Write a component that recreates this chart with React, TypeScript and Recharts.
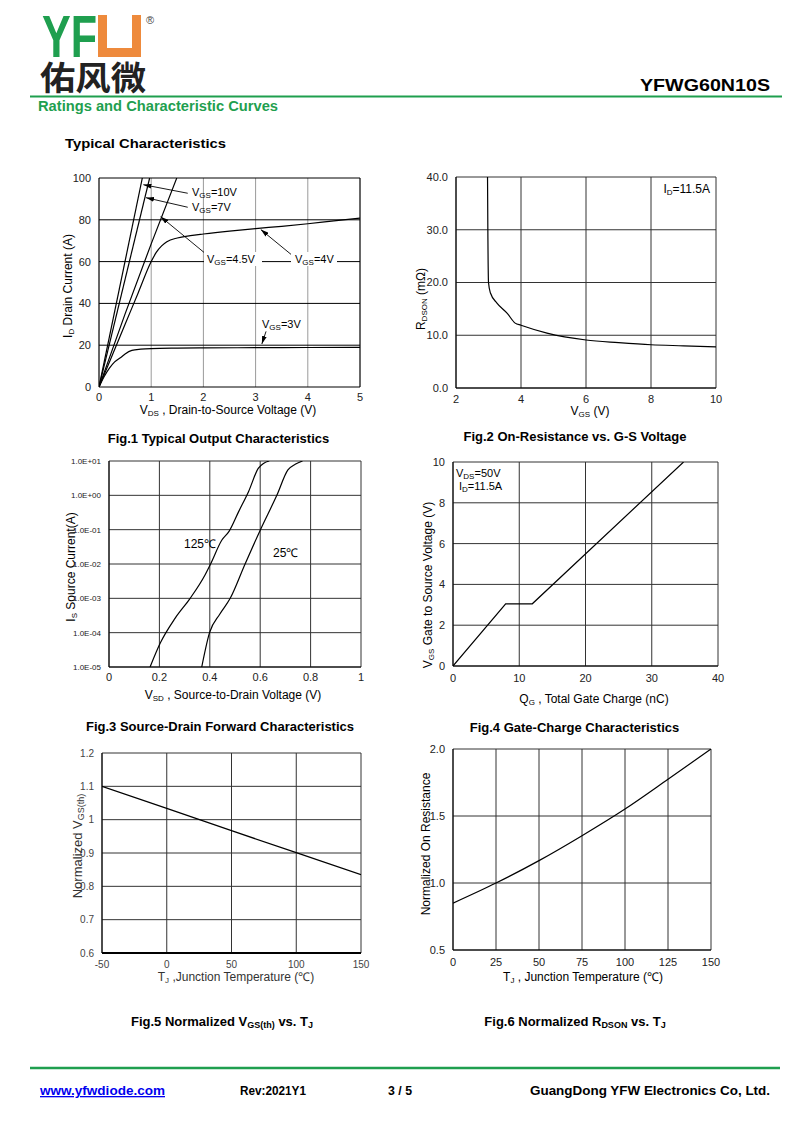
import React from "react";
import { LineChart, Line, XAxis, YAxis, CartesianGrid, ReferenceLine } from "recharts";

const FONT = "'Liberation Sans', Arial, Helvetica, sans-serif";
const GREEN = "#1f9f4f";
const ORANGE = "#ee8a3c";

type Pt = [number, number];

// Fig.1 output characteristics [Vds, Id]
const fig1X = [0, 1, 2, 3, 4, 5];
const fig1Y = [0, 20, 40, 60, 80, 100];
const vgs10: Pt[] = [[0, 0], [0.83, 100]];
const vgs7: Pt[] = [[0, 0], [0.97, 100]];
const vgs45: Pt[] = [[0, 0], [0.5, 35], [1.0, 68.5], [1.49, 100]];
const vgs4: Pt[] = [
  [0, 0], [0.25, 15], [0.5, 30], [0.75, 45], [1.0, 60], [1.1, 64.5], [1.2, 67.5], [1.3, 69.5],
  [1.5, 71.3], [1.75, 72.4], [2, 73.2], [2.5, 74.6], [3, 75.8], [3.5, 76.9], [4, 78.1], [4.5, 79.5], [5, 80.8],
];
const vgs3: Pt[] = [
  [0, 0], [0.1, 5], [0.2, 9], [0.3, 12], [0.43, 14.4], [0.5, 15.8], [0.63, 17.5], [0.8, 18.1],
  [1, 18.4], [1.5, 18.6], [2, 18.7], [3, 18.8], [4, 18.9], [5, 19],
];

// Fig.2 Rdson vs Vgs
const fig2X = [2, 4, 6, 8, 10];
const fig2Y = [0, 10, 20, 30, 40];
const rdson: Pt[] = [
  [2.97, 40], [2.98, 30], [3.0, 20], [3.06, 18], [3.26, 16.1], [3.57, 14.2], [3.82, 12.3], [4.0, 11.9],
  [4.8, 10.4], [6, 9.1], [7, 8.6], [8, 8.2], [9, 8], [10, 7.8],
];

// Fig.3 source-drain forward [Vsd, Is]
const fig3X = [0, 0.2, 0.4, 0.6, 0.8, 1];
const fig3Y = [1e-5, 1e-4, 1e-3, 1e-2, 1e-1, 1, 10];
const is125: Pt[] = [
  [0.163, 1e-5], [0.203, 4.9e-5], [0.262, 2.6e-4], [0.322, 1e-3], [0.381, 4.8e-3], [0.403, 1e-2],
  [0.448, 5e-2], [0.477, 9.1e-2], [0.514, 0.33], [0.554, 1.3], [0.593, 6.2], [0.613, 8.5], [0.636, 10],
];
const is25: Pt[] = [
  [0.368, 1e-5], [0.399, 1e-4], [0.44, 3.5e-4], [0.481, 1e-3], [0.54, 1e-2], [0.601, 1e-1],
  [0.666, 1], [0.71, 5.5], [0.739, 8], [0.768, 10],
];

// Fig.4 gate charge [Qg, Vgs]
const fig4X = [0, 10, 20, 30, 40];
const fig4Y = [0, 2, 4, 6, 8, 10];
const gateCharge: Pt[] = [[0, 0], [7.95, 3.05], [11.97, 3.05], [34.8, 10]];

// Fig.5 normalized Vgs(th) vs Tj
const fig5X = [-50, 0, 50, 100, 150];
const fig5Y = [0.6, 0.7, 0.8, 0.9, 1.0, 1.1, 1.2];
const vth: Pt[] = [[-50, 1.1], [0, 1.034], [50, 0.967], [100, 0.901], [150, 0.835]];

// Fig.6 normalized Rdson vs Tj
const fig6X = [0, 25, 50, 75, 100, 125, 150];
const fig6Y = [0.5, 1.0, 1.5, 2.0];
const rNorm: Pt[] = [[0, 0.85], [25, 1.0], [50, 1.167], [75, 1.353], [100, 1.552], [125, 1.774], [150, 2.0]];

const pts = (a: Pt[]) => a.map(([x, y]) => ({ x, y }));

const PAD_L = 60, PAD_R = 20, PAD_T = 10, PAD_B = 30;

function Plot({ box, children }: { box: number[]; children: React.ReactNode }) {
  const [x0, y0, x1, y1] = box;
  return (
    <div style={{ position: "absolute", left: x0 - PAD_L, top: y0 - PAD_T, zIndex: 1 }}>
      <LineChart
        width={x1 - x0 + PAD_L + PAD_R}
        height={y1 - y0 + PAD_T + PAD_B}
        margin={{ top: PAD_T, right: PAD_R, left: 0, bottom: 0 }}
      >
        {children}
      </LineChart>
    </div>
  );
}

const tick = (size = 11, fill = "#222") => ({ fontSize: size, fill, fontFamily: FONT });
const axLine = { stroke: "#000", strokeWidth: 1 };

const xAx = (
  domain: number[], ticks: number[], fmt?: (v: number) => string, t = tick(), line: any = axLine, size = 6,
) => (
  <XAxis
    type="number" dataKey="x" domain={domain} ticks={ticks} interval={0} allowDataOverflow
    height={PAD_B} tickLine={false} tickSize={size} axisLine={line} tick={t} tickFormatter={fmt}
  />
);
const yAx = (domain: number[], ticks: number[], fmt?: (v: number) => string, t = tick(), extra: any = {}) => (
  <YAxis
    type="number" domain={domain} ticks={ticks} interval={0} allowDataOverflow
    width={PAD_L} tickLine={false} axisLine={axLine} tick={t} tickFormatter={fmt} {...extra}
  />
);
const curve = (d: Pt[], type: "linear" | "monotone" = "monotone", w = 1.2) => (
  <Line data={pts(d)} dataKey="y" type={type} stroke="#000" strokeWidth={w} dot={false} isAnimationActive={false} />
);
const Arrow = (p: any) => (
  <line x1={p.x1} y1={p.y1} x2={p.x2} y2={p.y2} stroke="#000" strokeWidth={0.9} markerEnd="url(#ah)" />
);
const arrow = (x1: number, y1: number, x2: number, y2: number) => (
  <ReferenceLine segment={[{ x: x1, y: y1 }, { x: x2, y: y2 }]} shape={Arrow} ifOverflow="visible" />
);

const logFmt = (v: number) => {
  const e = Math.round(Math.log10(v));
  return "1.0E" + (e < 0 ? "-" : "+") + String(Math.abs(e)).padStart(2, "0");
};

function Sub({ children, size = 8 }: { children: React.ReactNode; size?: number }) {
  return <tspan fontSize={size} baselineShift="-25%">{children}</tspan>;
}

export default function App() {
  return (
    <div style={{ position: "absolute", left: 0, top: 0, width: 800, height: 1130, background: "#fff", overflow: "hidden" }}>
      {/* Fig.1 */}
      <Plot box={[99, 178, 360, 387]}>
        <CartesianGrid horizontal={false} stroke="#9a9a9a" />
        {xAx([0, 5], fig1X, undefined, tick(), axLine, 4)}
        {yAx([0, 100], fig1Y)}
        {fig1Y.slice(1).map((v) => <ReferenceLine key={v} y={v} stroke="#000" />)}
        <ReferenceLine x={5} stroke="#000" />
        {curve(vgs10, "linear")}
        {curve(vgs7, "linear")}
        {curve(vgs45, "monotone")}
        {curve(vgs4)}
        {curve(vgs3)}
        {arrow(1.7, 92.7, 0.85, 96.8)}
        {arrow(1.7, 86, 0.9, 90.6)}
        {arrow(2.08, 63, 1.18, 81.5)}
        {arrow(3.75, 62, 3.1, 75.3)}
        {arrow(3.2, 26.6, 3.12, 20.6)}
      </Plot>

      {/* Fig.2 */}
      <Plot box={[456, 177, 716, 388]}>
        <CartesianGrid stroke="#333" />
        {xAx([2, 10], fig2X, undefined, tick(), axLine, 5)}
        {yAx([0, 40], fig2Y, (v) => v.toFixed(1))}
        {curve(rdson)}
      </Plot>

      {/* Fig.3 */}
      <Plot box={[109, 461, 361, 667]}>
        <CartesianGrid stroke="#333" />
        {xAx([0, 1], fig3X, (v) => (v === 0 || v === 1 ? String(v) : v.toFixed(1)), tick(), axLine, 4)}
        {yAx([1e-5, 10], fig3Y, logFmt, tick(8), { scale: "log" })}
        {curve(is125)}
        {curve(is25)}
      </Plot>

      {/* Fig.4 */}
      <Plot box={[453, 462, 718, 666]}>
        <CartesianGrid stroke="#333" />
        {xAx([0, 40], fig4X)}
        {yAx([0, 10], fig4Y)}
        {curve(gateCharge, "linear")}
      </Plot>

      {/* Fig.5 */}
      <Plot box={[102, 753, 361, 953]}>
        <CartesianGrid stroke="#333" />
        {xAx([-50, 150], fig5X, undefined, tick(10, "#444"), { stroke: "#000", strokeWidth: 2 })}
        {yAx([0.6, 1.2], fig5Y, (v) => String(+v.toFixed(1)), tick(10, "#444"))}
        {curve(vth, "linear")}
      </Plot>

      {/* Fig.6 */}
      <Plot box={[453, 749, 711, 950]}>
        <CartesianGrid stroke="#333" />
        {xAx([0, 150], fig6X)}
        {yAx([0.5, 2.0], fig6Y, (v) => v.toFixed(1))}
        {curve(rNorm)}
      </Plot>

      <svg
        width={800}
        height={1130}
        style={{ position: "absolute", left: 0, top: 0, zIndex: 2, pointerEvents: "none" }}
        fontFamily={FONT}
      >
        <defs>
          <marker id="ah" viewBox="0 0 10 6" refX="10" refY="3" markerWidth="8" markerHeight="5" orient="auto" markerUnits="userSpaceOnUse">
            <path d="M0,0 L10,3 L0,6 z" fill="#000" />
          </marker>
        </defs>

        {/* header */}
        <text x={42} y={57} fontSize={60} fontWeight="bold" fill={GREEN} textLength={55} lengthAdjust="spacingAndGlyphs">YF</text>
        <rect x={98} y={15} width={43} height={42} fill={ORANGE} />
        <rect x={107} y={15} width={25} height={33} fill="#fff" />
        <text x={146} y={24} fontSize={11} fill="#444">®</text>
        <text x={40} y={90} fontSize={33} fontWeight="bold" fill="#222" fontFamily="'Noto Sans CJK SC', sans-serif" textLength={106} lengthAdjust="spacingAndGlyphs">佑风微</text>
        <text x={770} y={91} fontSize={17} fontWeight="bold" textAnchor="end" textLength={130} lengthAdjust="spacingAndGlyphs">YFWG60N10S</text>
        <line x1={30} y1={96.5} x2={782} y2={96.5} stroke={GREEN} strokeWidth={2} />
        <text x={38} y={111} fontSize={14} fontWeight="bold" fill={GREEN} textLength={240} lengthAdjust="spacingAndGlyphs">Ratings and Characteristic Curves</text>
        <text x={65} y={148} fontSize={13} fontWeight="bold" textLength={161} lengthAdjust="spacingAndGlyphs">Typical Characteristics</text>

        {/* Fig.1 labels */}
        <g fontSize={11}>
          <text x={192} y={196}>V<Sub>GS</Sub>=10V</text>
          <text x={192} y={211}>V<Sub>GS</Sub>=7V</text>
          <rect x={204} y={252} width={58} height={14} fill="#fff" />
          <text x={207} y={263}>V<Sub>GS</Sub>=4.5V</text>
          <rect x={291} y={252} width={46} height={14} fill="#fff" />
          <text x={295} y={263}>V<Sub>GS</Sub>=4V</text>
          <text x={262} y={328}>V<Sub>GS</Sub>=3V</text>
        </g>
        <text transform="translate(72,286) rotate(-90)" fontSize={12} textAnchor="middle">I<Sub>D</Sub> Drain Current (A)</text>
        <text x={228} y={414} fontSize={12} textAnchor="middle">V<Sub>DS</Sub>  , Drain-to-Source Voltage (V)</text>
        <text x={218.5} y={443} fontSize={13} fontWeight="bold" textAnchor="middle">Fig.1 Typical Output Characteristics</text>

        {/* Fig.2 labels */}
        <text x={710} y={193} fontSize={12} textAnchor="end">I<Sub>D</Sub>=11.5A</text>
        <text transform="translate(425,299) rotate(-90)" fontSize={12} textAnchor="middle">R<Sub>DSON</Sub> (mΩ)</text>
        <text x={590} y={415} fontSize={12} textAnchor="middle">V<Sub>GS</Sub> (V)</text>
        <text x={575} y={441} fontSize={13} fontWeight="bold" textAnchor="middle">Fig.2 On-Resistance vs. G-S Voltage</text>

        {/* Fig.3 labels */}
        <text x={184} y={548} fontSize={12}>125℃</text>
        <text x={273} y={557} fontSize={12}>25℃</text>
        <text transform="translate(75,567) rotate(-90)" fontSize={12} textAnchor="middle">I<Sub>S</Sub> Source Current(A)</text>
        <text x={233} y={699} fontSize={12} textAnchor="middle">V<Sub>SD</Sub> , Source-to-Drain Voltage (V)</text>
        <text x={220} y={731} fontSize={13} fontWeight="bold" textAnchor="middle">Fig.3 Source-Drain Forward Characteristics</text>

        {/* Fig.4 labels */}
        <text x={456} y={477} fontSize={11}>V<Sub>DS</Sub>=50V</text>
        <text x={459} y={490} fontSize={11}>I<Sub>D</Sub>=11.5A</text>
        <text transform="translate(432,585) rotate(-90)" fontSize={12} textAnchor="middle">V<Sub>GS</Sub>      Gate to Source Voltage (V)</text>
        <text x={594} y={703} fontSize={12} textAnchor="middle">Q<Sub>G</Sub> , Total Gate Charge (nC)</text>
        <text x={574.5} y={732} fontSize={13} fontWeight="bold" textAnchor="middle">Fig.4 Gate-Charge Characteristics</text>

        {/* Fig.5 labels */}
        <text transform="translate(82,846) rotate(-90)" fontSize={13} textAnchor="middle" fill="#333">Normalized V<Sub size={9}>GS(th)</Sub></text>
        <text x={236} y={981} fontSize={12} textAnchor="middle" fill="#333">T<Sub>J</Sub> ,Junction Temperature (℃)</text>
        <text x={222} y={1026} fontSize={13} fontWeight="bold" textAnchor="middle">Fig.5 Normalized V<Sub size={9}>GS(th)</Sub> vs. T<Sub size={9}>J</Sub></text>

        {/* Fig.6 labels */}
        <text transform="translate(430,844) rotate(-90)" fontSize={12} textAnchor="middle">Normalized On Resistance</text>
        <text x={583} y={981} fontSize={12} textAnchor="middle">T<Sub>J</Sub> , Junction Temperature (℃)</text>
        <text x={575} y={1026} fontSize={13} fontWeight="bold" textAnchor="middle">Fig.6 Normalized R<Sub size={9}>DSON</Sub> vs. T<Sub size={9}>J</Sub></text>

        {/* footer */}
        <line x1={30} y1={1068} x2={780} y2={1068} stroke={GREEN} strokeWidth={2.5} />
        <text x={40} y={1095} fontSize={13} fontWeight="bold" fill="#0000ee" textDecoration="underline" textLength={125} lengthAdjust="spacingAndGlyphs">www.yfwdiode.com</text>
        <text x={240} y={1095} fontSize={12} fontWeight="bold" textLength={66} lengthAdjust="spacingAndGlyphs">Rev:2021Y1</text>
        <text x={388} y={1095} fontSize={12} fontWeight="bold" textLength={24} lengthAdjust="spacingAndGlyphs">3 / 5</text>
        <text x={770} y={1095} fontSize={13} fontWeight="bold" textAnchor="end" textLength={240} lengthAdjust="spacingAndGlyphs">GuangDong YFW Electronics Co, Ltd.</text>
      </svg>
    </div>
  );
}
